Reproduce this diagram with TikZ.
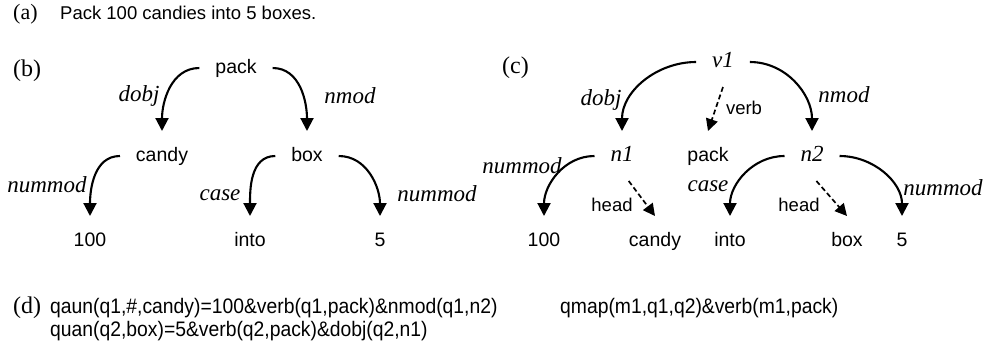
\documentclass[tikz,border=0pt]{standalone}
\usepackage{fontspec}
\setmainfont{Liberation Serif}
\setsansfont{Liberation Sans}
\newfontfamily\narrowsf{Liberation Sans}[FakeStretch=0.92]
\usetikzlibrary{arrows.meta}

\begin{document}
\begin{tikzpicture}[x=1pt,y=1pt,
  word/.style={font=\fontsize{19.5}{22}\sffamily,inner sep=0pt,outer sep=16pt,text height=14pt,text depth=4pt},
  var/.style={word,font=\fontsize{23}{26}\itshape},
  rel/.style={inner sep=0pt,font=\fontsize{23}{26}\itshape},
  srel/.style={inner sep=0pt,font=\fontsize{18.5}{21}\sffamily},
  tag/.style={inner sep=0pt,anchor=base west,font=\fontsize{24}{26}\rmfamily},
  form/.style={inner sep=0pt,anchor=base west,font=\fontsize{21}{24}\narrowsf},
  dep/.style={line width=2.1pt,-{Triangle[width=13pt,length=13pt]}},
  ref/.style={line width=1.7pt,dash pattern=on 5pt off 3pt,-{Triangle[width=12pt,length=12pt]}}]
        \useasboundingbox (0,0) rectangle (987,-357);
        \node[tag,font=\fontsize{22}{24}\rmfamily] (a) at (13,-19) {(a)};
        \node[inner sep=0pt,anchor=base west,font=\fontsize{18.5}{21}\sffamily] (sent) at (60,-19) {Pack 100 candies into 5 boxes.};
        \node[tag] (b) at (13,-76) {(b)};
        \node[word] (pack) at (236,-68) {pack};
        \node[word] (candy) at (162,-156) {candy};
        \node[word] (box) at (307,-156) {box};
        \node[word] (num) at (90,-241) {100};
        \node[word] (into) at (250,-241) {into};
        \node[word] (five) at (380,-241) {5};
        \node[rel] (dobj) at (139,-96) {dobj};
        \node[rel] (nmod) at (350,-96) {nmod};
        \node[rel] (nummod) at (47,-185) {nummod};
        \node[rel] (case) at (220,-195) {case};
        \node[rel] (nummodb) at (437,-194) {nummod};
        \draw[dep] (pack.west) to[out=180,in=90] (candy.north);
        \draw[dep] (pack.east) to[out=0,in=90] (box.north);
        \draw[dep] (candy.west) to[out=180,in=90] (num.north);
        \draw[dep] (box.west) to[out=180,in=90] (into.north);
        \draw[dep] (box.east) to[out=0,in=90] (five.north);
        \node[tag] (c) at (502,-73) {(c)};
        \node[var] (v1) at (723,-62) {v1};
        \node[var] (n1) at (622,-156) {n1};
        \node[word] (pack2) at (708,-156) {pack};
        \node[var] (n2) at (812,-156) {n2};
        \node[word] (num2) at (544,-241) {100};
        \node[word] (cand2) at (655,-241) {candy};
        \node[word] (into2) at (730,-241) {into};
        \node[word] (box2) at (847,-241) {box};
        \node[word] (five2) at (902,-241) {5};
        \node[rel] (dobj2) at (601,-100) {dobj};
        \node[rel] (nmod2) at (844,-95) {nmod};
        \node[srel] (verb) at (744,-108) {verb};
        \node[rel] (nummod2) at (522,-166) {nummod};
        \node[srel] (head) at (612,-205) {head};
        \node[rel] (case2) at (708,-186) {case};
        \node[srel] (head2) at (799,-205) {head};
        \node[rel] (nummod2b) at (943,-188) {nummod};
        \draw[dep] (v1.west) to[out=180,in=90] (n1.north);
        \draw[dep] (v1.east) to[out=0,in=90] (n2.north);
        \draw[ref] (v1.south) -- (pack2.north);
        \draw[dep] (n1.west) to[out=180,in=90] (num2.north);
        \draw[ref] (n1.-75) -- (cand2.north);
        \draw[dep] (n2.west) to[out=180,in=90] (into2.north);
        \draw[ref] (n2.-80) -- (box2.north);
        \draw[dep] (n2.east) to[out=0,in=90] (five2.north);
        \node[tag] (d) at (13,-313) {(d)};
        \node[form] (f1) at (50,-313) {qaun(q1,\#,candy)=100\&verb(q1,pack)\&nmod(q1,n2)};
        \node[form] (f2) at (50,-336) {quan(q2,box)=5\&verb(q2,pack)\&dobj(q2,n1)};
        \node[form] (f3) at (560,-313) {qmap(m1,q1,q2)\&verb(m1,pack)};
      \end{tikzpicture}
\end{document}
